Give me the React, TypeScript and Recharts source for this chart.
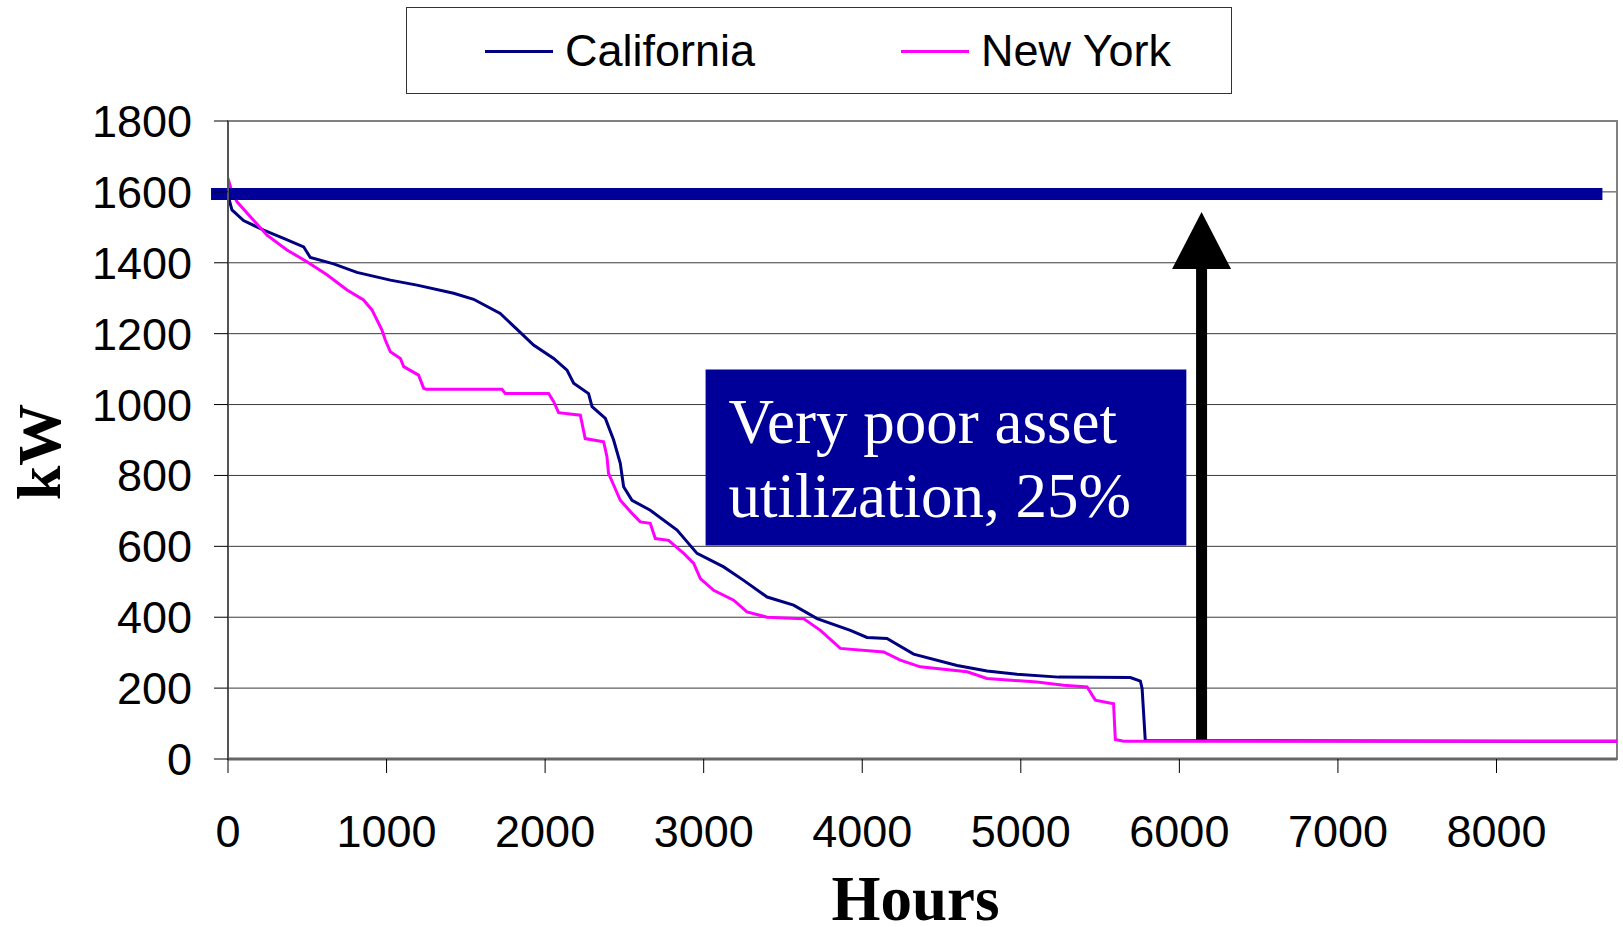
import {
  Line,
  LineChart,
  CartesianGrid,
  XAxis,
  YAxis,
  ReferenceLine,
  ReferenceArea,
} from "recharts";

// load duration curves, hours sorted by demand (kW)
const caHours = [0, 25, 98, 225, 351, 477, 519, 666, 813, 1024, 1192, 1423, 1549, 1717, 1823, 1927, 2054, 2138, 2180, 2274, 2296, 2380, 2432, 2474, 2495, 2548, 2663, 2832, 2958, 3126, 3252, 3400, 3567, 3715, 3925, 4030, 4156, 4324, 4598, 4787, 4976, 5239, 5691, 5754, 5765, 5785, 8760];
const caKw = [1590, 1549, 1519, 1492, 1469, 1445, 1415, 1397, 1373, 1351, 1337, 1314, 1297, 1257, 1212, 1168, 1130, 1097, 1060, 1031, 994, 961, 900, 834, 768, 730, 702, 646, 580, 542, 504, 457, 434, 396, 363, 343, 340, 296, 264, 248, 239, 231, 230, 220, 199, 52, 50];

const nyHours = [0, 25, 57, 141, 246, 372, 498, 624, 751, 855, 908, 971, 992, 1024, 1087, 1108, 1202, 1234, 1250, 1728, 1749, 2022, 2054, 2085, 2222, 2253, 2369, 2390, 2400, 2432, 2474, 2548, 2600, 2663, 2695, 2779, 2874, 2937, 2979, 3063, 3189, 3273, 3400, 3630, 3736, 3862, 4135, 4240, 4366, 4661, 4787, 5102, 5270, 5418, 5470, 5585, 5596, 5649, 8760];
const nyKw = [1638, 1600, 1572, 1530, 1478, 1436, 1403, 1366, 1323, 1295, 1267, 1210, 1182, 1149, 1130, 1107, 1083, 1046, 1043, 1043, 1031, 1031, 1008, 977, 970, 904, 895, 853, 806, 773, 730, 693, 669, 665, 622, 617, 580, 552, 509, 476, 448, 415, 400, 396, 363, 312, 302, 279, 260, 246, 227, 217, 208, 203, 166, 156, 55, 50, 50];

const hourTicks = [0, 1000, 2000, 3000, 4000, 5000, 6000, 7000, 8000];
const kwTicks = [0, 200, 400, 600, 800, 1000, 1200, 1400, 1600, 1800];

const capacityKw = 1594;
const capacityFrom = -107;
const capacityTo = 8668;
const arrowHour = 6140;
const arrowFrom = 55;
const arrowTo = 1543;
const boxHours = [3012, 6044];
const boxKw = [602, 1099];
const boxLines = ["Very poor asset", "utilization, 25%"];

const ca = caHours.map((h, i) => ({ h, kw: caKw[i] }));
const ny = nyHours.map((h, i) => ({ h, kw: nyKw[i] }));

const navy = "#000080";
const magenta = "#FF00FF";
const boxBlue = "#000099";
const sans = "'Liberation Sans', Arial, sans-serif";
const serif = "'Liberation Serif', 'Times New Roman', serif";

const tickStyle = { fontSize: 45, fill: "#000", fontFamily: sans };

function Arrow(p: any) {
  const { x1, y1, x2, y2 } = p;
  const head = 57;
  const half = 29.5;
  const top = Math.min(y1, y2);
  const bottom = Math.max(y1, y2);
  return (
    <g>
      <line x1={x1} x2={x2} y1={bottom} y2={top + head - 1} stroke="#000" strokeWidth={11} />
      <polygon points={`${x1},${top} ${x1 - half},${top + head} ${x1 + half},${top + head}`} fill="#000" />
    </g>
  );
}

function BoxLabel(p: any) {
  const vb = p.viewBox;
  return (
    <text fill="#fff" fontFamily={serif} fontSize={63}>
      {boxLines.map((t, i) => (
        <tspan key={t} x={vb.x + 23} y={vb.y + 73.5 + i * 74.5}>
          {t}
        </tspan>
      ))}
    </text>
  );
}

export default function App() {
  return (
    <div style={{ position: "relative", width: 1623, height: 927, background: "#fff" }}>
      <style>{`body{margin:0}`}</style>
      <LineChart
        width={1623}
        height={927}
        margin={{ top: 121, right: 6, bottom: 58, left: 0 }}
      >
        <CartesianGrid vertical={false} stroke="#3a3a3a" strokeWidth={1} />
        <XAxis
          type="number"
          dataKey="h"
          domain={[0, 8760]}
          ticks={hourTicks}
          interval={0}
          height={110}
          tickSize={14}
          tickMargin={42}
          tick={tickStyle}
          tickLine={{ stroke: "#000" }}
          axisLine={{ stroke: "#666", strokeWidth: 3 }}
          allowDataOverflow
          label={(lp: any) => (
            <text
              x={lp.viewBox.x + lp.viewBox.width / 2 - 7}
              y={lp.viewBox.y + 161}
              textAnchor="middle"
              fontFamily={serif}
              fontWeight="bold"
              fontSize={63}
              fill="#000"
            >
              Hours
            </text>
          )}
        />
        <YAxis
          type="number"
          dataKey="kw"
          domain={[0, 1800]}
          ticks={kwTicks}
          interval={0}
          width={228}
          tickSize={14}
          tickMargin={22}
          tick={tickStyle}
          tickLine={{ stroke: "#000" }}
          axisLine={{ stroke: "#555", strokeWidth: 2 }}
          label={() => (
            <text
              x={39}
              y={452}
              transform="rotate(-90 39 452)"
              textAnchor="middle"
              dominantBaseline="central"
              fontFamily={serif}
              fontWeight="bold"
              fontSize={62}
              fill="#000"
            >
              kW
            </text>
          )}
        />
        <ReferenceArea
          x1={0}
          x2={8760}
          y1={0}
          y2={1800}
          fill="none"
          stroke="#808080"
          strokeWidth={2}
          ifOverflow="visible"
        />
        <ReferenceArea
          x1={boxHours[0]}
          x2={boxHours[1]}
          y1={boxKw[0]}
          y2={boxKw[1]}
          fill={boxBlue}
          fillOpacity={1}
          stroke="none"
          label={BoxLabel}
        />
        <Line
          data={ca}
          dataKey="kw"
          name="California"
          type="linear"
          stroke={navy}
          strokeWidth={3}
          dot={false}
          isAnimationActive={false}
        />
        <Line
          data={ny}
          dataKey="kw"
          name="New York"
          type="linear"
          stroke={magenta}
          strokeWidth={3}
          dot={false}
          isAnimationActive={false}
        />
        <ReferenceLine
          segment={[
            { x: capacityFrom, y: capacityKw },
            { x: capacityTo, y: capacityKw },
          ]}
          stroke={boxBlue}
          strokeWidth={12}
          ifOverflow="visible"
        />
        <ReferenceLine
          segment={[
            { x: arrowHour, y: arrowFrom },
            { x: arrowHour, y: arrowTo },
          ]}
          ifOverflow="visible"
          shape={Arrow}
        />
      </LineChart>

      <div
        style={{
          position: "absolute",
          left: 406,
          top: 7,
          width: 824,
          height: 85,
          border: "1px solid #333",
          fontFamily: sans,
          fontSize: 45,
          color: "#000",
        }}
      >
        <div style={{ position: "absolute", left: 78, top: 42, width: 68, height: 3, background: navy }} />
        <div style={{ position: "absolute", left: 158, top: 15, lineHeight: "56px" }}>California</div>
        <div style={{ position: "absolute", left: 494, top: 42, width: 68, height: 3, background: magenta }} />
        <div style={{ position: "absolute", left: 574, top: 15, lineHeight: "56px" }}>New York</div>
      </div>
    </div>
  );
}
